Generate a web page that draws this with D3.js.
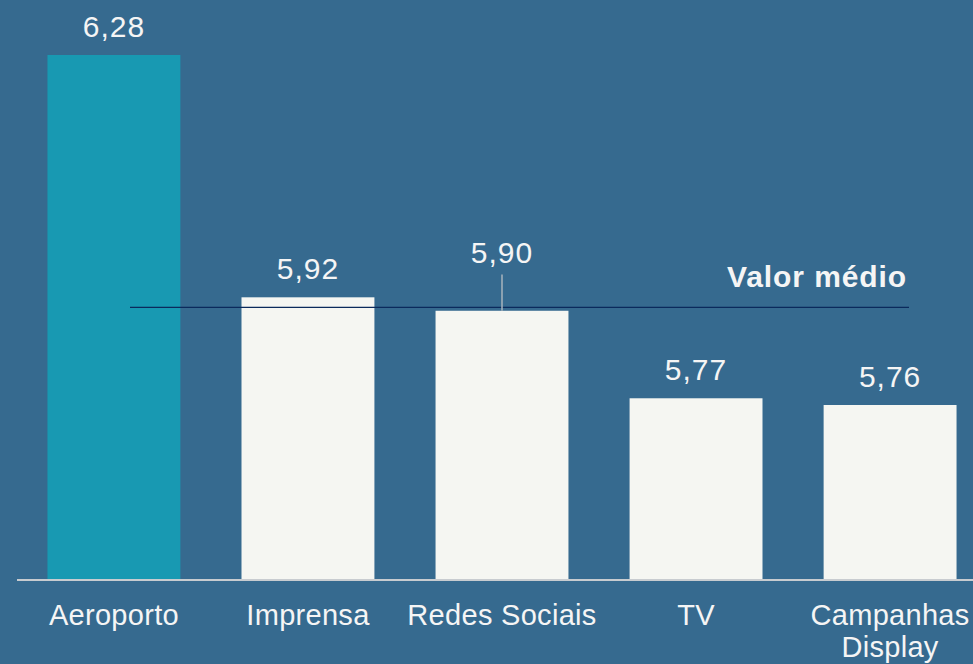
<!DOCTYPE html>
<html>
<head>
<meta charset="utf-8">
<script src="https://cdn.jsdelivr.net/npm/d3@7"></script>
<style>
  html, body { margin: 0; padding: 0; background: #366a8f; }
  svg { display: block; font-family: "Liberation Sans", Arial, sans-serif; }
</style>
</head>
<body>
<svg id="chart" width="973" height="664"></svg>
<script>
//// data
var categories = ["Aeroporto", "Imprensa", "Redes Sociais", "TV", "Campanhas Display"];
var values = [6.28, 5.92, 5.90, 5.77, 5.76];
var labels = ["6,28", "5,92", "5,90", "5,77", "5,76"];
var meanValue = 5.905;
var meanLabel = "Valor médio";

var svg = d3.select("svg#chart");
var width = +svg.attr("width"),
    height = +svg.attr("height");

svg.append("rect")
   .attr("width", width)
   .attr("height", height)
   .attr("fill", "#366a8f");

// scales
var x = d3.scaleBand()
          .domain(categories)
          .range([17, 987])
          .paddingInner(0.315)
          .paddingOuter(0.157);

var y = d3.scaleLinear()
          .domain([5.5, 6.28])
          .range([580, 55]);

var data = categories.map(function(c, i) { return {cat: c, value: values[i], label: labels[i]}; });

// bars
svg.selectAll("rect.bar")
   .data(data)
   .enter().append("rect")
   .attr("class", "bar")
   .attr("x", function(d) { return x(d.cat); })
   .attr("y", function(d) { return y(d.value); })
   .attr("width", x.bandwidth())
   .attr("height", function(d) { return y(5.5) - y(d.value); })
   .attr("fill", function(d, i) { return i === 0 ? "#1899b2" : "#f5f6f2"; });

// axis line
svg.append("line")
   .attr("x1", 17).attr("x2", width)
   .attr("y1", y(5.5)).attr("y2", y(5.5))
   .attr("stroke", "#c8ccd0")
   .attr("stroke-width", 2);

// mean line
var meanY = y(meanValue);
svg.append("line")
   .attr("x1", 130).attr("x2", 909)
   .attr("y1", meanY).attr("y2", meanY)
   .attr("stroke", "#0b2a5c")
   .attr("stroke-width", 1.3);

svg.append("text")
   .attr("x", 907)
   .attr("y", meanY - 20)
   .attr("text-anchor", "end")
   .attr("fill", "#f5f5f5")
   .attr("font-size", 30)
   .attr("font-weight", "bold")
   .attr("letter-spacing", 0.9)
   .text(meanLabel);

// value labels - lift the ones that would sit on the mean line
function lifted(d) {
  var top = y(d.value);
  return top > meanY && top - meanY < 30;
}

svg.selectAll("line.leader")
   .data(data.filter(lifted))
   .enter().append("line")
   .attr("class", "leader")
   .attr("x1", function(d) { return x(d.cat) + x.bandwidth() / 2; })
   .attr("x2", function(d) { return x(d.cat) + x.bandwidth() / 2; })
   .attr("y1", meanY - 33)
   .attr("y2", function(d) { return y(d.value); })
   .attr("stroke", "#a9b4bd")
   .attr("stroke-width", 1.5);

svg.selectAll("text.value")
   .data(data)
   .enter().append("text")
   .attr("class", "value")
   .attr("x", function(d) { return x(d.cat) + x.bandwidth() / 2; })
   .attr("y", function(d) { return lifted(d) ? meanY - 44 : y(d.value) - 18; })
   .attr("text-anchor", "middle")
   .attr("fill", "#f5f5f5")
   .attr("font-size", 30)
   .attr("letter-spacing", 1)
   .text(function(d) { return d.label; });

// category labels
var cats = svg.selectAll("text.cat")
   .data(data)
   .enter().append("text")
   .attr("class", "cat")
   .attr("text-anchor", "middle")
   .attr("fill", "#f5f5f5")
   .attr("font-size", 29)
   .attr("letter-spacing", 0.3);

cats.selectAll("tspan")
    .data(function(d) {
      var cx = x(d.cat) + x.bandwidth() / 2;
      var words = d.cat === "Campanhas Display" ? ["Campanhas", "Display"] : [d.cat];
      return words.map(function(w, i) { return {t: w, x: cx, dy: i === 0 ? 0 : 32}; });
    })
    .enter().append("tspan")
    .attr("x", function(d) { return d.x; })
    .attr("dy", function(d) { return d.dy; })
    .text(function(d) { return d.t; });

cats.attr("y", 625);
</script>
</body>
</html>
